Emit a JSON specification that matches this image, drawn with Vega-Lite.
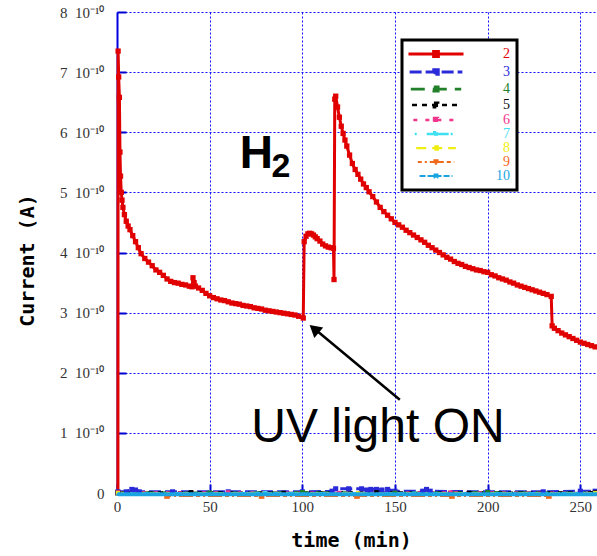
{
  "$schema": "https://vega.github.io/schema/vega-lite/v6.json",
  "width": 480,
  "height": 481,
  "autosize": {"type": "none"},
  "padding": {"left": 117, "top": 12, "right": 0, "bottom": 63},
  "background": "white",
  "config": {
    "view": {"stroke": null},
    "legend": {"strokeWidth": 3},
    "axis": {
      "grid": true,
      "gridColor": "#1010ff",
      "gridDash": [2, 2],
      "gridWidth": 1,
      "domainColor": "#0000e0",
      "domainWidth": 2,
      "tickColor": "#0000d0",
      "tickSize": -9,
      "tickWidth": 2,
      "labelFlush": false,
      "labelFont": "Liberation Serif",
      "labelFontSize": 15,
      "labelColor": "#333333",
      "titleFont": "DejaVu Sans Mono",
      "titleFontSize": 20,
      "titleFontWeight": "bold",
      "titleColor": "#000000"
    }
  },
  "datasets": {
    "curves": [
      {"t": 0.5, "A": 0, "s": "2"}, {"t": 0.6, "A": 7.35e-10, "s": "2"}, {"t": 0.9, "A": 6.92e-10, "s": "2"},
      {"t": 1.3, "A": 6.58e-10, "s": "2"}, {"t": 1.6, "A": 5.67e-10, "s": "2"}, {"t": 1.9, "A": 5.27e-10, "s": "2"},
      {"t": 2.3, "A": 5.0e-10, "s": "2"}, {"t": 2.7, "A": 4.87e-10, "s": "2"}, {"t": 3.2, "A": 4.75e-10, "s": "2"},
      {"t": 4, "A": 4.63e-10, "s": "2"}, {"t": 5, "A": 4.52e-10, "s": "2"}, {"t": 6, "A": 4.44e-10, "s": "2"},
      {"t": 7, "A": 4.38e-10, "s": "2"}, {"t": 8.5, "A": 4.28e-10, "s": "2"}, {"t": 10, "A": 4.18e-10, "s": "2"},
      {"t": 11.5, "A": 4.08e-10, "s": "2"}, {"t": 13, "A": 3.98e-10, "s": "2"}, {"t": 15, "A": 3.9e-10, "s": "2"},
      {"t": 17, "A": 3.84e-10, "s": "2"}, {"t": 19, "A": 3.78e-10, "s": "2"}, {"t": 21, "A": 3.71e-10, "s": "2"},
      {"t": 23, "A": 3.67e-10, "s": "2"}, {"t": 25, "A": 3.62e-10, "s": "2"}, {"t": 27, "A": 3.56e-10, "s": "2"},
      {"t": 29, "A": 3.52e-10, "s": "2"}, {"t": 31, "A": 3.5e-10, "s": "2"}, {"t": 33, "A": 3.49e-10, "s": "2"},
      {"t": 35, "A": 3.47e-10, "s": "2"}, {"t": 37, "A": 3.46e-10, "s": "2"}, {"t": 39, "A": 3.44e-10, "s": "2"},
      {"t": 40.5, "A": 3.43e-10, "s": "2"}, {"t": 41, "A": 3.58e-10, "s": "2"}, {"t": 41.6, "A": 3.5e-10, "s": "2"},
      {"t": 42.3, "A": 3.44e-10, "s": "2"}, {"t": 44, "A": 3.41e-10, "s": "2"}, {"t": 46, "A": 3.37e-10, "s": "2"},
      {"t": 48, "A": 3.32e-10, "s": "2"}, {"t": 50, "A": 3.28e-10, "s": "2"}, {"t": 52, "A": 3.25e-10, "s": "2"},
      {"t": 54, "A": 3.23e-10, "s": "2"}, {"t": 56, "A": 3.21e-10, "s": "2"}, {"t": 58, "A": 3.2e-10, "s": "2"},
      {"t": 60, "A": 3.18e-10, "s": "2"}, {"t": 62, "A": 3.16e-10, "s": "2"}, {"t": 64, "A": 3.15e-10, "s": "2"},
      {"t": 66, "A": 3.14e-10, "s": "2"}, {"t": 68, "A": 3.12e-10, "s": "2"}, {"t": 70, "A": 3.11e-10, "s": "2"},
      {"t": 72, "A": 3.1e-10, "s": "2"}, {"t": 74, "A": 3.08e-10, "s": "2"}, {"t": 76, "A": 3.07e-10, "s": "2"},
      {"t": 78, "A": 3.06e-10, "s": "2"}, {"t": 80, "A": 3.04e-10, "s": "2"}, {"t": 82, "A": 3.03e-10, "s": "2"},
      {"t": 84, "A": 3.02e-10, "s": "2"}, {"t": 86, "A": 3.01e-10, "s": "2"}, {"t": 88, "A": 3.0e-10, "s": "2"},
      {"t": 90, "A": 2.99e-10, "s": "2"}, {"t": 92, "A": 2.98e-10, "s": "2"}, {"t": 94, "A": 2.97e-10, "s": "2"},
      {"t": 96, "A": 2.96e-10, "s": "2"}, {"t": 98, "A": 2.94e-10, "s": "2"}, {"t": 100.5, "A": 2.91e-10, "s": "2"},
      {"t": 101, "A": 4.18e-10, "s": "2"}, {"t": 102, "A": 4.27e-10, "s": "2"}, {"t": 103, "A": 4.31e-10, "s": "2"},
      {"t": 104, "A": 4.32e-10, "s": "2"}, {"t": 105, "A": 4.31e-10, "s": "2"}, {"t": 106, "A": 4.29e-10, "s": "2"},
      {"t": 107, "A": 4.26e-10, "s": "2"}, {"t": 108, "A": 4.23e-10, "s": "2"}, {"t": 109.5, "A": 4.19e-10, "s": "2"},
      {"t": 111, "A": 4.14e-10, "s": "2"}, {"t": 112.5, "A": 4.11e-10, "s": "2"}, {"t": 114, "A": 4.09e-10, "s": "2"},
      {"t": 115.5, "A": 4.08e-10, "s": "2"}, {"t": 116.8, "A": 4.07e-10, "s": "2"}, {"t": 117.1, "A": 3.55e-10, "s": "2"},
      {"t": 117.5, "A": 6.55e-10, "s": "2"}, {"t": 118, "A": 6.6e-10, "s": "2"}, {"t": 119, "A": 6.42e-10, "s": "2"},
      {"t": 120, "A": 6.25e-10, "s": "2"}, {"t": 121, "A": 6.1e-10, "s": "2"}, {"t": 122, "A": 5.98e-10, "s": "2"},
      {"t": 123, "A": 5.87e-10, "s": "2"}, {"t": 124, "A": 5.77e-10, "s": "2"}, {"t": 125.5, "A": 5.62e-10, "s": "2"},
      {"t": 127, "A": 5.48e-10, "s": "2"}, {"t": 128.5, "A": 5.38e-10, "s": "2"}, {"t": 130, "A": 5.3e-10, "s": "2"},
      {"t": 131.5, "A": 5.22e-10, "s": "2"}, {"t": 133, "A": 5.14e-10, "s": "2"}, {"t": 134.5, "A": 5.08e-10, "s": "2"},
      {"t": 136, "A": 5.01e-10, "s": "2"}, {"t": 138, "A": 4.93e-10, "s": "2"}, {"t": 140, "A": 4.84e-10, "s": "2"},
      {"t": 142, "A": 4.75e-10, "s": "2"}, {"t": 144, "A": 4.68e-10, "s": "2"}, {"t": 146, "A": 4.62e-10, "s": "2"},
      {"t": 148, "A": 4.56e-10, "s": "2"}, {"t": 150, "A": 4.5e-10, "s": "2"}, {"t": 152, "A": 4.46e-10, "s": "2"},
      {"t": 154, "A": 4.42e-10, "s": "2"}, {"t": 156, "A": 4.37e-10, "s": "2"}, {"t": 158, "A": 4.33e-10, "s": "2"},
      {"t": 160, "A": 4.29e-10, "s": "2"}, {"t": 162, "A": 4.25e-10, "s": "2"}, {"t": 164, "A": 4.21e-10, "s": "2"},
      {"t": 166, "A": 4.17e-10, "s": "2"}, {"t": 168, "A": 4.12e-10, "s": "2"}, {"t": 170, "A": 4.08e-10, "s": "2"},
      {"t": 172, "A": 4.04e-10, "s": "2"}, {"t": 174, "A": 4.0e-10, "s": "2"}, {"t": 176, "A": 3.96e-10, "s": "2"},
      {"t": 178, "A": 3.92e-10, "s": "2"}, {"t": 180, "A": 3.89e-10, "s": "2"}, {"t": 182, "A": 3.85e-10, "s": "2"},
      {"t": 184, "A": 3.82e-10, "s": "2"}, {"t": 186, "A": 3.8e-10, "s": "2"}, {"t": 188, "A": 3.77e-10, "s": "2"},
      {"t": 190, "A": 3.75e-10, "s": "2"}, {"t": 192, "A": 3.73e-10, "s": "2"}, {"t": 194, "A": 3.71e-10, "s": "2"},
      {"t": 196, "A": 3.7e-10, "s": "2"}, {"t": 198, "A": 3.68e-10, "s": "2"}, {"t": 200, "A": 3.67e-10, "s": "2"},
      {"t": 202, "A": 3.63e-10, "s": "2"}, {"t": 204, "A": 3.61e-10, "s": "2"}, {"t": 206, "A": 3.58e-10, "s": "2"},
      {"t": 208, "A": 3.56e-10, "s": "2"}, {"t": 210, "A": 3.54e-10, "s": "2"}, {"t": 212, "A": 3.51e-10, "s": "2"},
      {"t": 214, "A": 3.49e-10, "s": "2"}, {"t": 216, "A": 3.46e-10, "s": "2"}, {"t": 218, "A": 3.44e-10, "s": "2"},
      {"t": 220, "A": 3.42e-10, "s": "2"}, {"t": 222, "A": 3.4e-10, "s": "2"}, {"t": 224, "A": 3.38e-10, "s": "2"},
      {"t": 226, "A": 3.36e-10, "s": "2"}, {"t": 228, "A": 3.34e-10, "s": "2"}, {"t": 230, "A": 3.32e-10, "s": "2"},
      {"t": 232, "A": 3.3e-10, "s": "2"}, {"t": 234.3, "A": 3.27e-10, "s": "2"}, {"t": 234.8, "A": 2.78e-10, "s": "2"},
      {"t": 236, "A": 2.74e-10, "s": "2"}, {"t": 238, "A": 2.7e-10, "s": "2"}, {"t": 240, "A": 2.66e-10, "s": "2"},
      {"t": 242, "A": 2.63e-10, "s": "2"}, {"t": 244, "A": 2.6e-10, "s": "2"}, {"t": 246, "A": 2.57e-10, "s": "2"},
      {"t": 248, "A": 2.54e-10, "s": "2"}, {"t": 250, "A": 2.51e-10, "s": "2"}, {"t": 252, "A": 2.49e-10, "s": "2"},
      {"t": 254, "A": 2.47e-10, "s": "2"}, {"t": 256, "A": 2.45e-10, "s": "2"}, {"t": 258, "A": 2.43e-10, "s": "2"},

      {"t": 0.5, "A": 0.02e-10, "s": "3"}, {"t": 5, "A": 0.02e-10, "s": "3"}, {"t": 8, "A": 0.06e-10, "s": "3"},
      {"t": 10, "A": 0.05e-10, "s": "3"}, {"t": 12, "A": 0.02e-10, "s": "3"}, {"t": 30, "A": 0.02e-10, "s": "3"},
      {"t": 60, "A": 0.02e-10, "s": "3"}, {"t": 100, "A": 0.02e-10, "s": "3"}, {"t": 116, "A": 0.03e-10, "s": "3"},
      {"t": 118, "A": 0.07e-10, "s": "3"}, {"t": 125, "A": 0.07e-10, "s": "3"}, {"t": 132, "A": 0.07e-10, "s": "3"},
      {"t": 135, "A": 0.05e-10, "s": "3"}, {"t": 137, "A": 0.06e-10, "s": "3"}, {"t": 140, "A": 0.06e-10, "s": "3"},
      {"t": 143, "A": 0.05e-10, "s": "3"}, {"t": 146, "A": 0.06e-10, "s": "3"}, {"t": 150, "A": 0.03e-10, "s": "3"},
      {"t": 165, "A": 0.03e-10, "s": "3"}, {"t": 167, "A": 0.06e-10, "s": "3"}, {"t": 169, "A": 0.03e-10, "s": "3"},
      {"t": 200, "A": 0.02e-10, "s": "3"}, {"t": 230, "A": 0.02e-10, "s": "3"}, {"t": 250, "A": 0.03e-10, "s": "3"},
      {"t": 258, "A": 0.03e-10, "s": "3"},

      {"t": 0.5, "A": 0.01e-10, "s": "4"}, {"t": 50, "A": 0.0, "s": "4"}, {"t": 100, "A": 0.01e-10, "s": "4"},
      {"t": 150, "A": 0.0, "s": "4"}, {"t": 200, "A": 0.01e-10, "s": "4"}, {"t": 258, "A": 0.0, "s": "4"},

      {"t": 0.5, "A": 0.0, "s": "5"}, {"t": 40, "A": 0.01e-10, "s": "5"}, {"t": 90, "A": 0.0, "s": "5"},
      {"t": 140, "A": 0.01e-10, "s": "5"}, {"t": 190, "A": 0.0, "s": "5"}, {"t": 258, "A": 0.01e-10, "s": "5"},

      {"t": 0.5, "A": 0.01e-10, "s": "6"}, {"t": 60, "A": 0.01e-10, "s": "6"}, {"t": 120, "A": 0.0, "s": "6"},
      {"t": 180, "A": 0.01e-10, "s": "6"}, {"t": 258, "A": 0.0, "s": "6"},

      {"t": 0.5, "A": -0.01e-10, "s": "7"}, {"t": 80, "A": 0.0, "s": "7"}, {"t": 160, "A": -0.01e-10, "s": "7"},
      {"t": 258, "A": 0.0, "s": "7"},

      {"t": 0.5, "A": 0.0, "s": "8"}, {"t": 130, "A": 0.0, "s": "8"}, {"t": 258, "A": 0.0, "s": "8"},

      {"t": 27, "A": -0.05e-10, "s": "9"}, {"t": 78, "A": -0.05e-10, "s": "9"}, {"t": 129.5, "A": -0.05e-10, "s": "9"},
      {"t": 180.7, "A": -0.05e-10, "s": "9"}, {"t": 233, "A": -0.05e-10, "s": "9"},

      {"t": 0.5, "A": -0.02e-10, "s": "10"}, {"t": 20, "A": -0.02e-10, "s": "10"}, {"t": 40, "A": -0.02e-10, "s": "10"},
      {"t": 60, "A": -0.02e-10, "s": "10"}, {"t": 80, "A": -0.02e-10, "s": "10"}, {"t": 100, "A": -0.02e-10, "s": "10"},
      {"t": 120, "A": -0.02e-10, "s": "10"}, {"t": 140, "A": -0.02e-10, "s": "10"}, {"t": 160, "A": -0.02e-10, "s": "10"},
      {"t": 180, "A": -0.02e-10, "s": "10"}, {"t": 200, "A": -0.02e-10, "s": "10"}, {"t": 220, "A": -0.02e-10, "s": "10"},
      {"t": 240, "A": -0.02e-10, "s": "10"}, {"t": 259, "A": -0.02e-10, "s": "10"}
    ]
  },
  "layer": [
    {
      "data": {"name": "curves"},
      "transform": [{"filter": "datum.s != '10'"}],
      "mark": {"type": "line", "clip": false},
      "encoding": {
        "x": {
          "field": "t",
          "type": "quantitative",
          "scale": {"domain": [0, 259], "nice": false, "zero": false},
          "axis": {
            "values": [0, 50, 100, 150, 200, 250],
            "title": "time (min)",
            "labelPadding": 15,
            "titleX": 234,
            "titleY": 53,
            "titleBaseline": "alphabetic"
          }
        },
        "y": {
          "field": "A",
          "type": "quantitative",
          "scale": {"domain": [0, 8e-10], "nice": false, "zero": false},
          "axis": {
            "values": [0, 1e-10, 2e-10, 3e-10, 4e-10, 5e-10, 6e-10, 7e-10, 8e-10],
            "labelExpr": "datum.value == 0 ? '0' : format(datum.value * 1e10, '.0f') + '\u2002' + '10\u207b\u00b9\u2070'",
            "labelPadding": 22,
            "title": "Current (A)",
            "titleX": -90,
            "titleY": 248,
            "titleAngle": -90,
            "titleAlign": "center",
            "titleBaseline": "middle"
          }
        },
        "color": {
          "field": "s",
          "type": "nominal",
          "scale": {
            "domain": ["2", "3", "4", "5", "6", "7", "8", "9", "10"],
            "range": ["#e00000", "#2a2ad8", "#23802a", "#000000", "#f2358c", "#3ee0f2", "#f0ee10", "#f06a1c", "#1aa4e2"]
          },
          "legend": {
            "orient": "none",
            "legendX": 285,
            "legendY": 28,
            "title": null,
            "padding": 7,
            "fillColor": "white",
            "strokeColor": "#000000",
            "symbolType": "M-10.4,0H10.4M-0.9,-0.9H0.9V0.9H-0.9Z",
            "symbolSize": 100,
            "symbolStrokeWidth": 1.5,
            "symbolOffset": 20,
            "labelFont": "Liberation Serif",
            "labelFontSize": 14,
            "labelAlign": "right",
            "labelOffset": 67,
            "labelExpr": "datum.label + '\u00a0\u00a0\u00a0\u00a0\u00a0\u00a0\u00a0'",
            "labelColor": {"expr": "scale('color', datum.value)"},
            "rowPadding": 0
          }
        },
        "strokeDash": {
          "field": "s",
          "type": "nominal",
          "scale": {
            "domain": ["2", "3", "4", "5", "6", "7", "8", "9", "10"],
            "range": [[1, 0], [12, 4], [14, 8], [5, 5], [4, 8], [2, 10, 22, 2], [10, 6], [4, 3, 2, 3, 14, 3], [6, 2]]
          }
        },
        "strokeWidth": {
          "field": "s",
          "type": "nominal",
          "scale": {
            "domain": ["2", "3", "4", "5", "6", "7", "8", "9", "10"],
            "range": [3, 2, 1.5, 1.5, 1.5, 1.5, 1.5, 1.5, 4]
          },
          "legend": null
        }
      }
    },
    {
      "data": {"name": "curves"},
      "transform": [{"filter": "datum.s != '9' && datum.s != '10'"}],
      "mark": {"type": "point", "shape": "square", "filled": true, "opacity": 1, "clip": false},
      "encoding": {
        "x": {"field": "t", "type": "quantitative"},
        "y": {"field": "A", "type": "quantitative"},
        "color": {"field": "s", "type": "nominal"},
        "size": {
          "field": "s",
          "type": "nominal",
          "scale": {
            "domain": ["2", "3", "4", "5", "6", "7", "8", "9", "10"],
            "range": [28, 10, 6, 6, 6, 6, 6, 32, 8]
          },
          "legend": null
        }
      }
    },
    {
      "data": {"name": "curves"},
      "transform": [{"filter": "datum.s == '9'"}],
      "mark": {"type": "point", "shape": "square", "filled": true, "opacity": 1, "size": 32, "clip": false},
      "encoding": {
        "x": {"field": "t", "type": "quantitative"},
        "y": {"field": "A", "type": "quantitative"},
        "color": {"field": "s", "type": "nominal"}
      }
    },
    {
      "data": {"name": "curves"},
      "transform": [{"filter": "datum.s == '10'"}],
      "mark": {"type": "line", "clip": false, "strokeWidth": 4},
      "encoding": {
        "x": {"field": "t", "type": "quantitative"},
        "y": {"field": "A", "type": "quantitative"},
        "color": {"field": "s", "type": "nominal"}
      }
    },
    {
      "data": {"name": "curves"},
      "transform": [{"filter": "datum.s == '10'"}],
      "mark": {"type": "point", "shape": "diamond", "filled": true, "opacity": 1, "size": 14, "clip": false},
      "encoding": {
        "x": {"field": "t", "type": "quantitative"},
        "y": {"field": "A", "type": "quantitative"},
        "color": {"field": "s", "type": "nominal"}
      }
    },
    {
      "data": {"values": [{}]},
      "mark": {"type": "rule", "color": "#000000", "strokeWidth": 2.5},
      "encoding": {
        "x": {"datum": 152.6, "type": "quantitative"},
        "y": {"datum": 1.55e-10, "type": "quantitative"},
        "x2": {"datum": 106.2},
        "y2": {"datum": 2.74e-10}
      }
    },
    {
      "data": {"values": [{}]},
      "mark": {"type": "point", "shape": "triangle-up", "filled": true, "color": "#000000", "opacity": 1, "size": 190, "angle": 310},
      "encoding": {
        "x": {"datum": 106.4, "type": "quantitative"},
        "y": {"datum": 2.73e-10, "type": "quantitative"}
      }
    },
    {
      "data": {"values": [{}]},
      "mark": {"type": "text", "text": "UV light ON", "font": "Liberation Sans", "fontSize": 48, "align": "center", "baseline": "alphabetic", "color": "#000000"},
      "encoding": {
        "x": {"datum": 140.8, "type": "quantitative"},
        "y": {"datum": 0.85e-10, "type": "quantitative"}
      }
    },
    {
      "data": {"values": [{}]},
      "mark": {"type": "text", "text": "H", "font": "Liberation Sans", "fontWeight": "bold", "fontSize": 46, "align": "left", "baseline": "alphabetic", "color": "#000000"},
      "encoding": {
        "x": {"datum": 66.3, "type": "quantitative"},
        "y": {"datum": 5.4e-10, "type": "quantitative"}
      }
    },
    {
      "data": {"values": [{}]},
      "mark": {"type": "text", "text": "2", "font": "Liberation Sans", "fontWeight": "bold", "fontSize": 34, "align": "left", "baseline": "alphabetic", "color": "#000000"},
      "encoding": {
        "x": {"datum": 83.4, "type": "quantitative"},
        "y": {"datum": 5.25e-10, "type": "quantitative"}
      }
    }
  ]
}
